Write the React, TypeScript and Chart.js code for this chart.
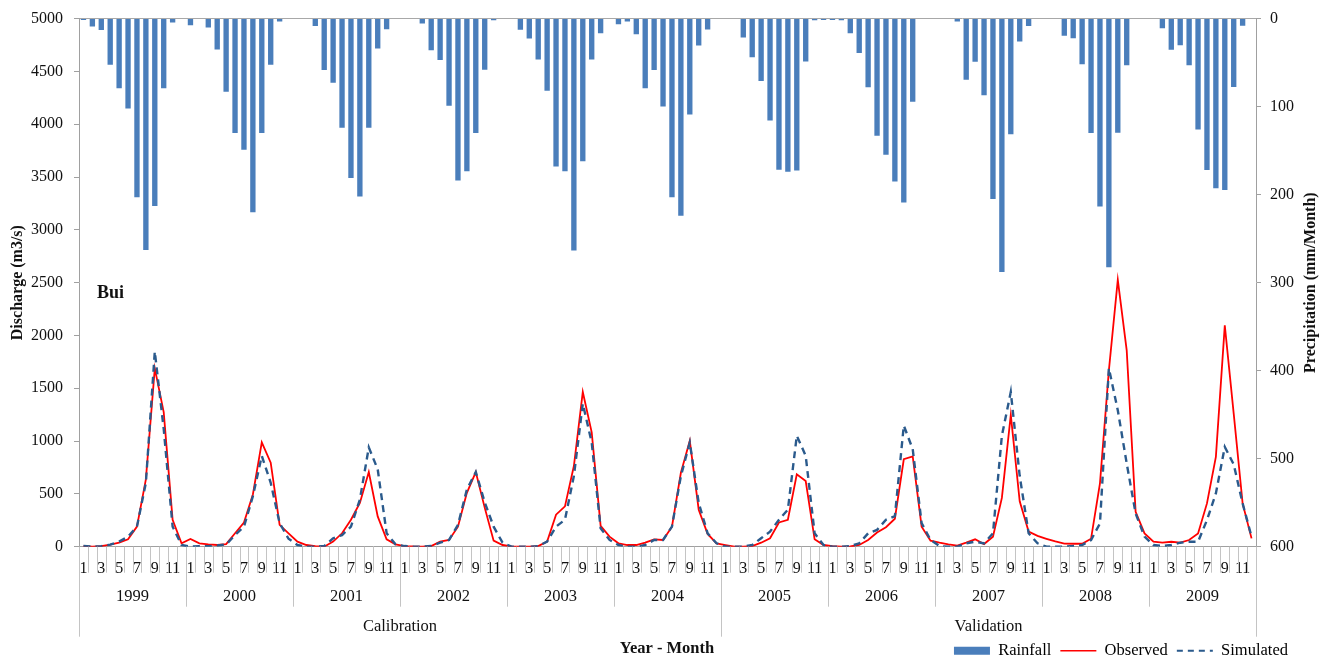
import React, { useEffect, useRef } from "react";
import { Chart, registerables } from "chart.js";

Chart.register(...registerables);

// ---------- data ----------
const years = [1999, 2000, 2001, 2002, 2003, 2004, 2005, 2006, 2007, 2008, 2009];
const months = [1, 2, 3, 4, 5, 6, 7, 8, 9, 10, 11, 12];
const groupNames = ["Calibration", "Validation"];
const groupYears = [
  [1999, 2004],
  [2005, 2009],
];
const dischargeTicks = [0, 500, 1000, 1500, 2000, 2500, 3000, 3500, 4000, 4500, 5000];
const precipTicks = [0, 100, 200, 300, 400, 500, 600];

// Rainfall (mm/Month)
const rainfall = [
  1.5, 9, 13, 52.5, 79, 102, 203, 263, 213, 79, 4.5, 0, // 1999
  7.5, 0, 10, 35, 83, 130, 149, 220, 130, 52.5, 3.4, 0, // 2000
  0, 0, 8.3, 58.5, 73, 124, 181, 202, 124, 34, 12, 0, // 2001
  0, 0, 5.6, 36, 47, 99, 184, 173.5, 130, 58, 2, 0, // 2002
  0, 12.8, 22.7, 46.5, 82, 168, 173.5, 263.5, 162, 46.5, 16.6, 0, // 2003
  6.4, 3.4, 17.7, 79, 58.5, 100, 203, 224, 109, 30.6, 12.5, 0, // 2004
  0, 0, 21.5, 44, 71, 115.7, 171.6, 174, 172.7, 48.8, 2, 1.5, // 2005
  1.5, 2, 16.6, 39, 78, 133, 154.6, 185, 209, 94.5, 0, 0, // 2006
  0, 0, 3.4, 69.5, 49, 87, 205, 288, 131.5, 26, 8.3, 0, // 2007
  0, 0, 19.6, 22.2, 52, 130, 213.6, 282.4, 129.6, 52.9, 0, 0, // 2008
  0, 10.9, 35.5, 30.2, 52.9, 126, 172, 192.8, 194.7, 77.8, 8, 0, // 2009
];

// Observed discharge (m3/s)
const observed = [
  6, 0, 5, 20, 38, 70, 190, 637, 1688, 1274, 255, 32, // 1999
  73, 32, 22, 16, 25, 127, 229, 494, 987, 796, 207, 127, // 2000
  48, 16, 6, 0, 48, 127, 255, 414, 707, 287, 70, 22, // 2001
  6, 2, 0, 6, 48, 64, 190, 510, 707, 370, 57, 16, // 2002
  2, 0, 0, 6, 48, 303, 382, 764, 1465, 1083, 197, 95, // 2003
  32, 16, 16, 38, 70, 64, 190, 700, 1003, 350, 121, 32, // 2004
  16, 0, 0, 6, 38, 80, 229, 255, 685, 621, 70, 16, // 2005
  6, 0, 2, 16, 64, 134, 185, 265, 828, 854, 190, 57, // 2006
  38, 22, 10, 38, 70, 25, 95, 462, 1248, 430, 143, 102, // 2007
  75, 50, 30, 28, 28, 75, 600, 1670, 2527, 1859, 331, 126, // 2008
  47, 38, 47, 38, 63, 126, 410, 851, 2095, 1260, 410, 79, // 2009
];

// Simulated discharge (m3/s)
const simulated = [
  6, 0, 5, 20, 48, 95, 190, 605, 1847, 1115, 190, 16, // 1999
  0, 5, 5, 12, 20, 110, 190, 478, 860, 605, 223, 75, // 2000
  16, 0, 0, 6, 80, 110, 190, 446, 940, 733, 127, 22, // 2001
  6, 0, 0, 6, 38, 64, 207, 541, 707, 420, 190, 38, // 2002
  0, 0, 0, 6, 48, 190, 255, 669, 1354, 987, 175, 64, // 2003
  16, 0, 0, 16, 64, 64, 190, 669, 987, 414, 127, 32, // 2004
  0, 0, 0, 16, 80, 143, 255, 350, 1051, 860, 127, 16, // 2005
  0, 0, 6, 32, 127, 159, 255, 290, 1147, 924, 223, 64, // 2006
  6, 0, 0, 32, 48, 32, 127, 1050, 1465, 669, 127, 32, // 2007
  0, 0, 0, 6, 16, 63, 220, 1690, 1292, 788, 315, 95, // 2008
  16, 6, 16, 38, 47, 47, 252, 504, 945, 780, 410, 95, // 2009
];

const labels = years.flatMap(() => months.map((m) => String(m)));

// ---------- styles ----------
const FONT = "'Liberation Serif', 'Times New Roman', serif";
const BAR = "#4A7EBB";
const RED = "#FF0000";
const BLUE = "#2A5A8C";
const AXIS = "#A0A0A0";
const SEP = "#C4C4C4";
const FS = 16;

const decorPlugin = {
  id: "decor",
  afterDraw(chart: any) {
    const { ctx, chartArea, scales } = chart;
    const x = scales.x;
    const n = labels.length;
    const step = x.getPixelForValue(1) - x.getPixelForValue(0);
    const edge = (i: number) => x.getPixelForValue(0) - step / 2 + i * step;
    const bottom = chartArea.bottom;
    const groupStarts = groupYears.map((g) => (g[0] - years[0]) * 12);
    const groupEnds = groupYears.map((g) => (g[1] - years[0] + 1) * 12);
    ctx.save();
    ctx.strokeStyle = SEP;
    ctx.lineWidth = 1;
    for (let i = 0; i <= n; i++) {
      let len = 26;
      if (i % 12 === 0) len = 60;
      if (groupStarts.includes(i) || groupEnds.includes(i)) len = 90;
      const px = Math.round(edge(i)) + 0.5;
      ctx.beginPath();
      ctx.moveTo(px, bottom);
      ctx.lineTo(px, bottom + len);
      ctx.stroke();
    }
    ctx.fillStyle = "#111";
    ctx.font = `16.5px ${FONT}`;
    ctx.textAlign = "center";
    ctx.textBaseline = "middle";
    years.forEach((yr, k) => {
      const cx = (edge(k * 12) + edge(k * 12 + 12)) / 2;
      ctx.fillText(String(yr), cx, bottom + 50);
    });
    groupNames.forEach((g, k) => {
      const cx = (edge(groupStarts[k]) + edge(groupEnds[k])) / 2;
      ctx.fillText(g, cx, bottom + 80);
    });
    // x axis title
    ctx.font = `bold 16.5px ${FONT}`;
    ctx.fillText("Year - Month", 667, 649);
    // station label
    ctx.font = `bold 18px ${FONT}`;
    ctx.textAlign = "left";
    ctx.fillText("Bui", chartArea.left + 18, 293);
    // right axis title (reads bottom to top)
    ctx.font = `bold 16px ${FONT}`;
    ctx.translate(1311, (chartArea.top + chartArea.bottom) / 2);
    ctx.rotate(-Math.PI / 2);
    ctx.textAlign = "center";
    ctx.fillText("Precipitation (mm/Month)", 0, 0);
    ctx.restore();
  },
};

export default function App() {
  const ref = useRef<HTMLCanvasElement | null>(null);

  useEffect(() => {
    if (!ref.current) return;
    Chart.defaults.font.family = FONT;
    const chart = new Chart(ref.current, {
      type: "bar",
      data: {
        labels,
        datasets: [
          {
            type: "bar",
            label: "Rainfall",
            data: rainfall,
            backgroundColor: BAR,
            borderWidth: 0,
            yAxisID: "y2",
            xAxisID: "x",
            barPercentage: 0.6,
            categoryPercentage: 1,
            order: 2,
          },
          {
            type: "line",
            label: "Observed",
            data: observed,
            borderColor: RED,
            borderWidth: 1.8,
            pointRadius: 0,
            tension: 0,
            yAxisID: "y",
            xAxisID: "x",
            order: 1,
          } as any,
          {
            type: "line",
            label: "Simulated",
            data: simulated,
            borderColor: BLUE,
            borderWidth: 2.4,
            borderDash: [7, 5],
            pointRadius: 0,
            tension: 0,
            yAxisID: "y",
            xAxisID: "x",
            order: 0,
          } as any,
        ],
      },
      options: {
        animation: false,
        responsive: true,
        maintainAspectRatio: false,
        layout: { padding: { top: 10, right: 27, bottom: -8, left: 0 } },
        plugins: {
          tooltip: { enabled: false },
          legend: {
            position: "bottom",
            align: "end",
            labels: {
              usePointStyle: true,
              pointStyleWidth: 36,
              boxHeight: 8,
              padding: 9,
              color: "#111",
              font: { size: 16.5, family: FONT },
              generateLabels: () => [
                {
                  text: "Rainfall",
                  fillStyle: BAR,
                  strokeStyle: BAR,
                  lineWidth: 0,
                  pointStyle: "rect",
                  datasetIndex: 0,
                  hidden: false,
                },
                {
                  text: "Observed",
                  fillStyle: "rgba(0,0,0,0)",
                  strokeStyle: RED,
                  lineWidth: 1.6,
                  lineDash: [],
                  pointStyle: "line",
                  datasetIndex: 1,
                  hidden: false,
                },
                {
                  text: "Simulated",
                  fillStyle: "rgba(0,0,0,0)",
                  strokeStyle: BLUE,
                  lineWidth: 2.2,
                  lineDash: [6, 5],
                  pointStyle: "line",
                  datasetIndex: 2,
                  hidden: false,
                },
              ],
            },
          },
        },
        scales: {
          x: {
            type: "category",
            position: "bottom",
            offset: true,
            grid: { display: false },
            border: { display: true, color: AXIS, width: 1 },
            ticks: {
              autoSkip: false,
              maxRotation: 0,
              minRotation: 0,
              padding: 4,
              color: "#111",
              font: { size: FS, family: FONT },
              callback: function (this: any, v: any) {
                const lab = this.getLabelForValue(v);
                return Number(lab) % 2 === 1 ? lab : "";
              },
            },
            afterFit: (s: any) => {
              s.height = 86.8;
            },
          },
          x2: {
            type: "category",
            position: "top",
            offset: true,
            grid: { display: false },
            ticks: { display: false },
            border: { display: true, color: "#A8A8A8", dash: [4, 4], width: 1 },
            afterFit: (s: any) => {
              s.height = 0;
            },
          },
          y: {
            position: "left",
            min: 0,
            max: 5000,
            afterBuildTicks: (s: any) => {
              s.ticks = dischargeTicks.map((v) => ({ value: v }));
            },
            grid: { drawOnChartArea: false, drawTicks: true, tickLength: 5, color: AXIS },
            border: { display: true, color: AXIS },
            ticks: {
              padding: 11,
              color: "#111",
              font: { size: FS, family: FONT, lineHeight: 0.95 },
              callback: (v: any) => String(v),
            },
            title: {
              display: true,
              text: "Discharge (m3/s)",
              color: "#111",
              font: { size: 16, weight: "bold", family: FONT },
              padding: { top: 8, bottom: 0 },
            },
            afterFit: (s: any) => {
              s.width = 79;
            },
          },
          y2: {
            position: "right",
            reverse: true,
            min: 0,
            max: 600,
            afterBuildTicks: (s: any) => {
              s.ticks = precipTicks.map((v) => ({ value: v }));
            },
            grid: { drawOnChartArea: false, drawTicks: true, tickLength: 5, color: AXIS },
            border: { display: true, color: AXIS },
            ticks: {
              padding: 9,
              color: "#111",
              font: { size: FS, family: FONT, lineHeight: 0.95 },
              callback: (v: any) => String(v),
            },
            afterFit: (s: any) => {
              s.width = 41;
            },
          },
        },
      } as any,
      plugins: [decorPlugin],
    });
    return () => chart.destroy();
  }, []);

  return (
    <div style={{ position: "fixed", left: 0, top: 0, width: 1324, height: 661, background: "#fff" }}>
      <canvas ref={ref} />
    </div>
  );
}
